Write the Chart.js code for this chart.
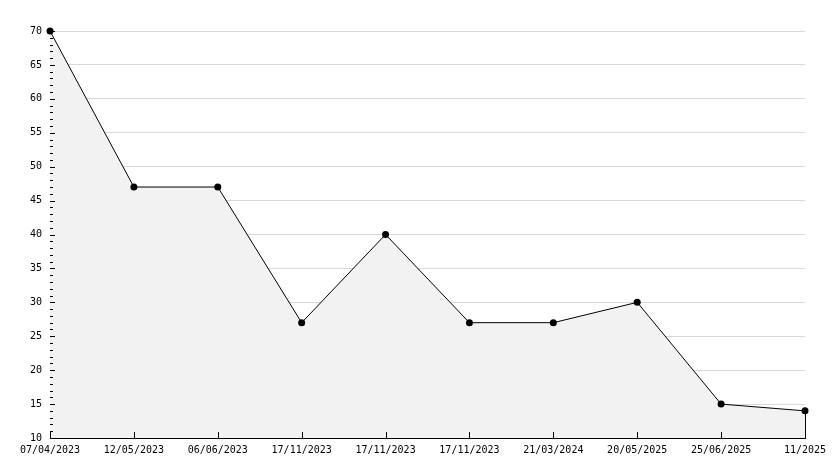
<!DOCTYPE html>
<html><head><meta charset="utf-8">
<script src="https://cdn.jsdelivr.net/npm/chart.js@4"></script>
<style>html,body{margin:0;padding:0;background:#fff}#w{width:834px;height:468px}</style>
</head><body><div id="w"><canvas id="c"></canvas></div>
<script>
const categories = ["07/04/2023","12/05/2023","06/06/2023","17/11/2023","17/11/2023","17/11/2023","21/03/2024","20/05/2025","25/06/2025","11/2025"];
const values = [70,47,47,27,40,27,27,30,15,14];
const yMin = 10, yMax = 70, yStep = 5, yMinorStep = 1;

const tickPlugin = {
  id: 'innerTicks',
  afterDatasetsDraw(chart) {
    const ctx = chart.ctx, x = chart.scales.x, y = chart.scales.y, a = chart.chartArea;
    ctx.save();
    ctx.strokeStyle = '#000'; ctx.lineWidth = 1;
    ctx.beginPath();
    for (let v = yMin; v <= yMax; v += yMinorStep) {
      const py = Math.round(y.getPixelForValue(v)) + 0.5;
      const len = (v % yStep === 0) ? 5 : 3;
      ctx.moveTo(a.left, py); ctx.lineTo(a.left + len, py);
    }
    for (let i = 0; i < categories.length; i++) {
      const px = Math.round(x.getPixelForValue(i)) + 0.5;
      ctx.moveTo(px, a.bottom); ctx.lineTo(px, a.bottom - 6);
    }
    const last = values.length - 1;
    const lx = Math.round(x.getPixelForValue(last)) + 0.5;
    ctx.moveTo(lx, y.getPixelForValue(values[last])); ctx.lineTo(lx, a.bottom);
    ctx.stroke();
    ctx.restore();
  }
};

new Chart(document.getElementById('c'), {
  type: 'line',
  data: {
    labels: categories,
    datasets: [{
      data: values, clip: false,
      borderColor: '#000', borderWidth: 1, tension: 0,
      fill: 'start', backgroundColor: '#f2f2f2',
      pointStyle: 'circle', pointRadius: 3.5, pointBackgroundColor: '#000', pointBorderColor: '#000', pointBorderWidth: 0
    }]
  },
  options: {
    responsive: true, maintainAspectRatio: false, animation: false,
    layout: { padding: { top: 31, right: 29, left: 0, bottom: 0 } },
    plugins: { legend: { display: false }, tooltip: { enabled: false } },
    scales: {
      x: {
        type: 'category', offset: false,
        grid: { display: false, drawTicks: false },
        border: { display: true, color: '#000', width: 1 },
        ticks: { color: '#000', font: { family: 'DejaVu Sans Mono', size: 10 }, padding: 6, maxRotation: 0, autoSkip: false },
        afterFit(s) { s.height = 30; }
      },
      y: {
        min: yMin, max: yMax,
        grid: { color: '#d9d9d9', drawTicks: false },
        border: { display: true, color: '#000', width: 1 },
        ticks: { stepSize: yStep, color: '#000', font: { family: 'DejaVu Sans Mono', size: 10 }, padding: 8 },
        afterFit(s) { s.width = 50; }
      }
    }
  },
  plugins: [tickPlugin]
});
</script></body></html>
